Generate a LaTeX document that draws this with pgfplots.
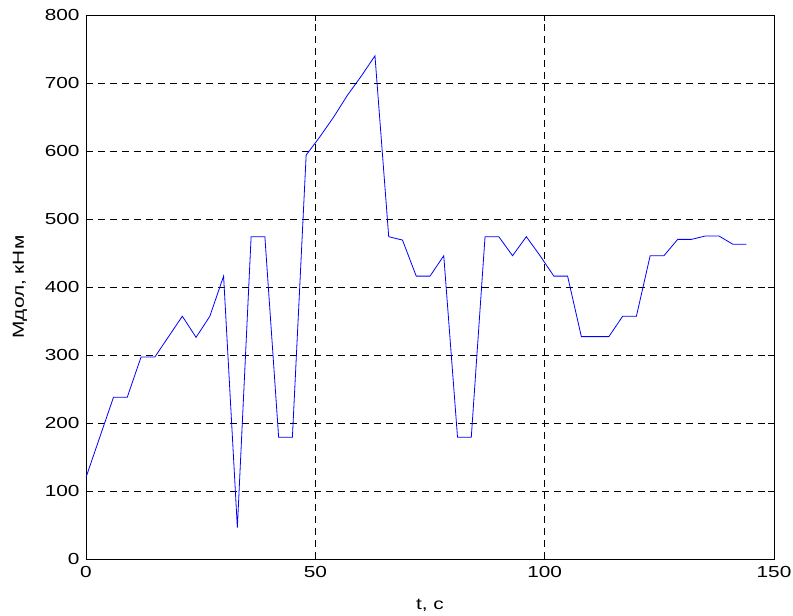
\documentclass[border=0pt]{standalone}
\usepackage{fontspec}
\setmainfont{Liberation Sans}
\usepackage{pgfplots}
\pgfplotsset{compat=1.18}
\newcommand{\wide}[1]{\scalebox{1.3}[1]{#1}}
\begin{document}
\begin{tikzpicture}
\path[use as bounding box] (-86pt,-57pt) rectangle (707pt,559pt);
\begin{axis}[
  scale only axis, width=688pt, height=544pt,
  xmin=0, xmax=150, ymin=0, ymax=800,
  xtick={0,50,100,150}, ytick={0,100,...,800},
  grid=major,
  major grid style={black, line width=0.6pt, dash pattern=on 7pt off 5pt},
  tick align=inside, major tick length=6pt,
  tick style={black, line width=0.6pt},
  axis line style={black, line width=0.8pt},
  xtick pos=both, ytick pos=both,
  /pgf/number format/assume math mode=true,
  ticklabel style={font=\fontsize{16}{16}\selectfont},
  xticklabel={\wide{\pgfmathprintnumber{\tick}}},
  yticklabel={\wide{\pgfmathprintnumber{\tick}}},
  yticklabel style={xshift=-3pt},
  xticklabel style={yshift=-4pt},
  label style={font=\fontsize{16}{16}\selectfont},
  xlabel={\wide{t, с}},
  ylabel={\wide{Мдол, кНм}},
  xlabel style={at={(axis description cs:0.5,-0.0846)}, anchor=center},
  ylabel style={at={(axis description cs:-0.096,0.5)}, anchor=center, rotate=0},
]
\addplot[color={rgb,255:red,0;green,0;blue,255}, line width=0.8pt] coordinates {
(0,120) (3,179) (6,238) (9,238) (12,297) (15,297) (18,327) (21,357) (24,326) (27,357)
(30,416) (33,46) (36,474) (39,474) (42,179) (45,179) (48,594) (51,621) (54,650) (57,682)
(60,710) (63,740) (66,474) (69,469) (72,416) (75,416) (78,446) (81,179) (84,179) (87,474)
(90,474) (93,446) (96,474) (99,446) (102,416) (105,416) (108,327) (111,327) (114,327) (117,357)
(120,357) (123,446) (126,446) (129,470) (132,470) (135,475) (138,475) (141,463) (144,463)
};
\end{axis}
\end{tikzpicture}
\end{document}
